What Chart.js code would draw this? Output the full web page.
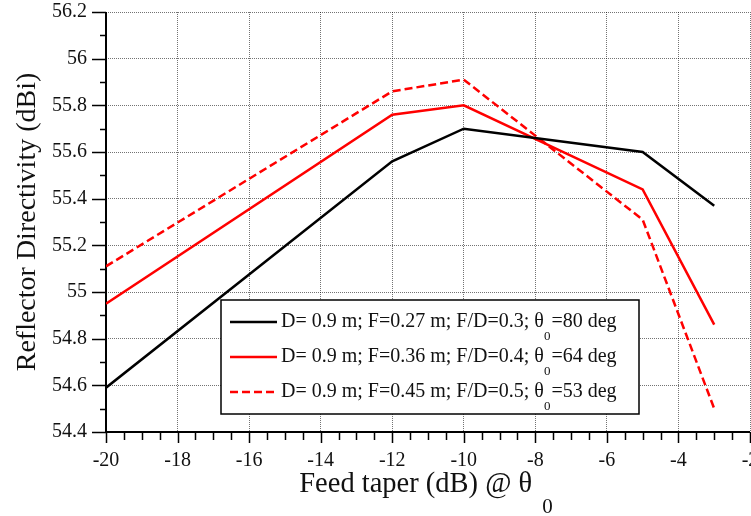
<!DOCTYPE html>
<html><head><meta charset="utf-8">
<script src="https://cdn.jsdelivr.net/npm/chart.js@4.4.1/dist/chart.umd.min.js"></script>
<style>html,body{margin:0;padding:0;background:#fff;overflow:hidden}canvas{display:block}</style>
</head><body>
<canvas id="c" width="751" height="516"></canvas>
<script>
// ---- data ----
const taper = [-20, -12, -10, -5, -3];
const dirF027 = [54.59, 55.56, 55.70, 55.60, 55.37];
const dirF036 = [54.95, 55.76, 55.80, 55.44, 54.86];
const dirF045 = [55.11, 55.86, 55.91, 55.31, 54.50];
const legendMain = ['D= 0.9 m; F=0.27 m; F/D=0.3; θ', 'D= 0.9 m; F=0.36 m; F/D=0.4; θ', 'D= 0.9 m; F=0.45 m; F/D=0.5; θ'];
const legendTail = ['=80 deg', '=64 deg', '=53 deg'];
const xTickValues = [-20, -18, -16, -14, -12, -10, -8, -6, -4, -2];
const yTickValues = [54.4, 54.6, 54.8, 55.0, 55.2, 55.4, 55.6, 55.8, 56.0, 56.2];
const xTitle = 'Feed taper (dB) @ θ';
const yTitle = 'Reflector Directivity (dBi)';

const FAM = '"Liberation Serif", "Times New Roman", serif';
const pts = arr => taper.map((t, i) => ({x: t, y: arr[i]}));

const deco = {
  id: 'deco',
  beforeDatasetsDraw(chart) {
    const {ctx, chartArea: a, scales: {x, y}} = chart;
    ctx.save();
    ctx.strokeStyle = '#000';
    ctx.lineWidth = 1.5;
    ctx.beginPath();
    for (let i = 0; i <= 18; i++) {
      const py = Math.round(y.getPixelForValue(54.4 + i * 0.1)) + 0.5;
      const len = i % 2 === 0 ? 14 : 6;
      ctx.moveTo(a.left - len, py); ctx.lineTo(a.left, py);
    }
    for (let i = 0; i <= 36; i++) {
      const px = Math.round(x.getPixelForValue(-20 + i * 0.5)) + 0.5;
      const len = i % 4 === 0 ? 11 : 8;
      ctx.moveTo(px, a.bottom); ctx.lineTo(px, a.bottom + len);
    }
    ctx.stroke();
    ctx.lineWidth = 2;
    ctx.beginPath();
    ctx.moveTo(a.left, a.top); ctx.lineTo(a.left, a.bottom); ctx.lineTo(a.right, a.bottom);
    ctx.stroke();
    ctx.restore();
  },
  afterDatasetsDraw(chart) {
    const {ctx, chartArea: a} = chart;
    ctx.save();
    const bx = 221, by = 300, bw = 418, bh = 114;
    ctx.fillStyle = '#fff';
    ctx.fillRect(bx, by, bw, bh);
    ctx.strokeStyle = '#000'; ctx.lineWidth = 1.5;
    ctx.strokeRect(bx, by, bw, bh);
    const rows = [322, 357, 392];
    chart.data.datasets.forEach((ds, i) => {
      const ry = rows[i];
      ctx.strokeStyle = ds.borderColor; ctx.lineWidth = 2.5;
      ctx.setLineDash(ds.borderDash || []);
      ctx.beginPath(); ctx.moveTo(230, ry); ctx.lineTo(277, ry); ctx.stroke();
      ctx.setLineDash([]);
      ctx.fillStyle = '#111';
      ctx.textBaseline = 'alphabetic'; ctx.textAlign = 'left';
      ctx.font = '20px ' + FAM;
      const base = ry + 4.5;
      ctx.fillText(legendMain[i], 281, base);
      const w = ctx.measureText(legendMain[i]).width;
      ctx.font = '13px ' + FAM;
      ctx.fillText('0', 281 + w, base + 13);
      const sw = ctx.measureText('0').width;
      ctx.font = '20px ' + FAM;
      ctx.fillText(legendTail[i], 281 + w + sw + 1, base);
    });
    ctx.fillStyle = '#111';
    ctx.font = '28.5px ' + FAM;
    const mw = ctx.measureText(xTitle).width;
    ctx.font = '21px ' + FAM;
    const subw = ctx.measureText('0').width;
    const total = mw + 10 + subw;
    const sx = (a.left + a.right) / 2 - 2 - total / 2;
    ctx.font = '28.5px ' + FAM;
    ctx.fillText(xTitle, sx, 492);
    ctx.font = '21px ' + FAM;
    ctx.fillText('0', sx + mw + 10, 513);
    ctx.restore();
  }
};

new Chart(document.getElementById('c'), {
  type: 'line',
  data: {
    datasets: [
      {label: legendMain[0] + '0' + legendTail[0], data: pts(dirF027), borderColor: '#000000', borderWidth: 2.5, pointRadius: 0, tension: 0, fill: false},
      {label: legendMain[1] + '0' + legendTail[1], data: pts(dirF036), borderColor: '#ff0000', borderWidth: 2.5, pointRadius: 0, tension: 0, fill: false},
      {label: legendMain[2] + '0' + legendTail[2], data: pts(dirF045), borderColor: '#ff0000', borderWidth: 2.5, borderDash: [8, 4], pointRadius: 0, tension: 0, fill: false}
    ]
  },
  options: {
    responsive: false,
    animation: false,
    layout: {padding: {left: 0, right: 1, top: 12, bottom: 0}},
    plugins: {legend: {display: false}, tooltip: {enabled: false}},
    scales: {
      x: {
        type: 'linear', min: -20, max: -2,
        afterBuildTicks: s => { s.ticks = xTickValues.map(v => ({value: v})); },
        afterFit: s => { s.height = 84; s.paddingLeft = 0; s.paddingRight = 0; },
        grid: {color: 'rgba(0,0,0,0.55)', lineWidth: 1, drawTicks: false},
        border: {display: false, dash: [1, 1]},
        ticks: {padding: 17, color: '#111', font: {family: FAM, size: 20}, maxRotation: 0, autoSkip: false,
                callback: v => String(v)}
      },
      y: {
        min: 54.4, max: 56.2,
        afterBuildTicks: s => { s.ticks = yTickValues.map(v => ({value: v})); },
        afterFit: s => { s.width = 106; s.paddingTop = 0; s.paddingBottom = 0; },
        grid: {color: 'rgba(0,0,0,0.55)', lineWidth: 1, drawTicks: false},
        border: {display: false, dash: [1, 1]},
        ticks: {padding: 19, color: '#111', font: {family: FAM, size: 20}, autoSkip: false,
                callback: v => String(Math.round(v * 10) / 10)},
        title: {display: true, text: yTitle, color: '#111', font: {family: FAM, size: 28}, padding: {top: 11, bottom: 0}}
      }
    }
  },
  plugins: [deco]
});
</script>
</body></html>
